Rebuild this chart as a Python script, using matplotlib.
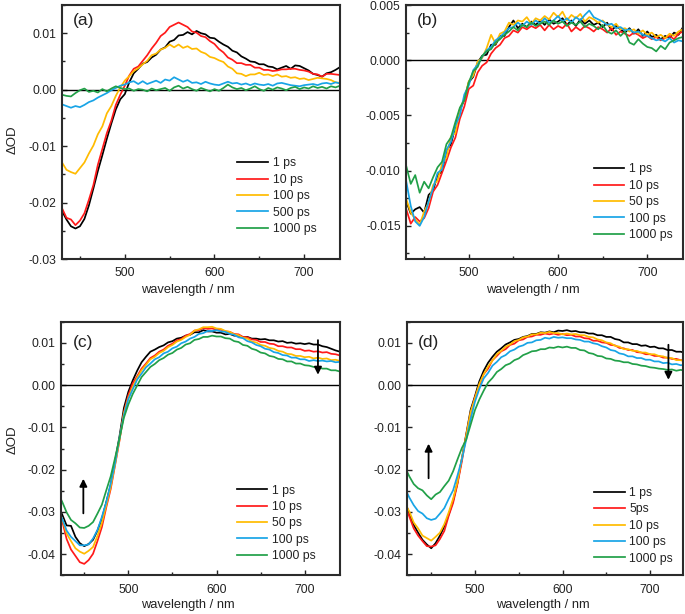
import matplotlib
matplotlib.use('Agg')
import matplotlib.pyplot as plt
from matplotlib.ticker import MultipleLocator, FormatStrFormatter
import numpy as np

plt.rcParams['font.family'] = ['Liberation Sans', 'DejaVu Sans']

# wavelength grids (nm)
wl_ab = np.arange(430, 741, 5)
wl_cd = np.arange(420, 741, 5)

# values, in mOD (x1e-3)
a_labels = ['1 ps', '10 ps', '100 ps', '500 ps', '1000 ps']
a_1ps = [-21.5, -23.0, -24.2, -24.6, -24.2, -22.9, -20.5, -17.5, -14.4, -11.6,
         -8.7, -6.0, -3.5, -1.7, -0.8, 1.3, 2.9, 3.7, 4.6, 4.9,
         5.7, 6.2, 7.1, 7.5, 8.5, 8.8, 9.6, 9.7, 10.2, 9.8,
         10.4, 10.0, 9.8, 9.2, 9.1, 8.5, 8.0, 7.6, 6.9, 6.6,
         5.9, 5.5, 5.0, 4.9, 4.5, 4.5, 4.1, 4.0, 3.6, 3.9,
         4.2, 3.7, 4.3, 4.2, 3.8, 3.4, 2.8, 2.6, 2.3, 2.9,
         3.1, 3.5, 4.0]
a_10ps = [-21.0, -22.7, -23.0, -24.0, -23.2, -21.9, -19.5, -16.9, -13.3, -10.5,
          -7.7, -5.5, -2.7, -0.9, 0.7, 2.5, 3.7, 4.1, 5.1, 6.1,
          7.3, 8.3, 9.5, 10.1, 11.1, 11.5, 11.9, 11.5, 11.1, 10.3,
          10.1, 9.5, 9.3, 8.6, 8.1, 7.2, 6.6, 5.7, 5.3, 4.7,
          4.7, 4.4, 4.4, 3.9, 3.9, 3.5, 3.5, 3.3, 3.4, 3.6,
          3.6, 3.7, 3.7, 3.5, 3.4, 3.2, 2.8, 2.7, 2.3, 2.8,
          2.8, 2.7, 2.6]
a_100ps = [-12.9, -14.2, -14.6, -14.9, -13.9, -12.9, -11.3, -9.9, -7.9, -6.5,
           -4.2, -2.9, -1.1, 0.4, 1.6, 2.4, 3.3, 3.8, 4.5, 5.1,
           6.1, 6.4, 7.1, 7.4, 8.0, 7.5, 8.0, 7.4, 7.7, 7.2,
           7.3, 6.7, 6.4, 5.8, 5.6, 5.2, 4.9, 4.1, 3.7, 2.9,
           2.8, 2.4, 2.7, 2.7, 3.0, 2.6, 2.7, 2.4, 2.7, 2.3,
           2.4, 2.1, 2.2, 1.9, 2.0, 1.7, 1.9, 2.1, 2.0, 1.9,
           1.7, 1.3, 1.2]
a_500ps = [-2.6, -2.9, -3.2, -2.9, -3.1, -2.7, -2.2, -1.9, -1.4, -1.0,
           -0.6, -0.1, 0.3, 0.7, 0.9, 1.3, 1.5, 1.0, 1.5, 1.0,
           1.3, 1.6, 1.2, 1.8, 1.6, 2.2, 1.8, 1.4, 1.7, 1.2,
           1.3, 1.0, 1.4, 1.1, 0.9, 0.8, 1.1, 1.4, 1.1, 1.2,
           0.9, 1.1, 0.8, 1.1, 0.9, 0.8, 1.0, 0.7, 1.1, 1.2,
           1.0, 0.8, 0.7, 0.6, 0.8, 0.9, 1.0, 0.8, 1.1, 1.2,
           1.0, 1.3, 1.1]
a_1000ps = [-0.9, -1.1, -1.2, -0.6, -0.1, 0.2, -0.4, -0.2, -0.5, 0.1,
            -0.3, 0.2, 0.6, 0.3, 0.1, 0.2, -0.2, 0.1, 0.0, -0.3,
            0.2, -0.1, 0.1, 0.3, -0.2, 0.4, 0.7, 0.2, 0.5, 0.1,
            -0.2, 0.3, 0.0, -0.3, 0.1, -0.2, 0.3, 0.9, 0.4, 0.1,
            0.3, -0.1, 0.2, 0.6, 0.1, -0.2, 0.3, 0.0, 0.4, 0.2,
            -0.1, 0.3, 0.5, 0.1, 0.4, 0.2, 0.6, 0.3, 0.5, 0.2,
            0.6, 0.4, 0.7]

b_labels = ['1 ps', '10 ps', '50 ps', '100 ps', '1000 ps']
b_1ps = [-12.8, -13.9, -13.5, -13.3, -13.8, -12.2, -11.8, -10.4, -10.1, -8.2,
         -7.6, -6.0, -4.5, -3.6, -2.0, -1.5, -0.2, 0.4, 0.5, 1.4,
         1.4, 2.2, 2.2, 3.0, 3.6, 2.9, 3.3, 3.0, 3.5, 3.2,
         3.6, 3.2, 3.7, 3.3, 3.5, 3.8, 3.2, 3.6, 3.1, 3.7,
         3.3, 3.6, 3.2, 3.4, 3.0, 3.4, 2.7, 3.1, 2.8, 2.5,
         2.9, 2.4, 2.8, 2.2, 2.6, 2.1, 2.3, 1.9, 2.2, 2.0,
         2.5, 2.3, 3.0]
b_10ps = [-13.5, -14.8, -14.2, -14.6, -14.3, -13.4, -11.9, -11.3, -10.2, -9.1,
          -7.9, -7.0, -5.3, -4.2, -2.6, -2.3, -1.1, -0.5, -0.2, 0.6,
          1.1, 1.4, 2.0, 2.2, 2.7, 2.5, 3.0, 2.8, 3.1, 2.9,
          3.2, 2.7, 3.2, 2.8, 3.1, 2.9, 3.3, 2.6, 3.0, 2.7,
          3.1, 2.9, 2.6, 3.0, 2.8, 2.5, 2.9, 2.3, 2.6, 2.4,
          2.2, 2.5, 2.3, 2.0, 2.2, 1.9, 2.1, 1.8, 2.0, 2.2,
          1.9, 2.4, 2.6]
b_50ps = [-12.6, -13.8, -14.4, -14.9, -13.7, -12.9, -11.3, -10.9, -9.4, -8.8,
          -6.9, -6.6, -4.4, -3.5, -1.9, -1.4, -0.1, 0.2, 1.1, 2.3,
          1.5, 2.4, 2.6, 3.4, 3.2, 3.6, 3.5, 3.9, 3.3, 3.8,
          3.6, 4.0, 3.7, 4.3, 3.9, 4.4, 3.6, 4.1, 3.8, 4.2,
          3.5, 3.9, 3.7, 3.4, 3.6, 3.2, 3.0, 3.3, 2.8, 2.9,
          2.6, 2.8, 2.4, 2.7, 2.3, 2.5, 2.1, 2.3, 2.0, 2.4,
          2.2, 2.6, 2.8]
b_100ps = [-11.0, -13.2, -14.6, -15.0, -14.2, -12.8, -11.6, -10.2, -9.9, -8.1,
           -7.4, -5.9, -5.0, -3.1, -2.3, -0.9, -0.4, 0.3, 0.9, 1.2,
           1.8, 2.1, 2.5, 2.9, 3.0, 3.4, 3.1, 3.5, 3.2, 3.6,
           3.3, 3.8, 3.4, 3.6, 4.0, 3.5, 3.8, 3.4, 3.9, 3.6,
           4.1, 4.5, 3.9, 3.7, 3.5, 3.2, 3.3, 2.9, 3.0, 2.7,
           2.8, 2.5, 2.6, 2.3, 2.2, 2.0, 1.8, 1.9, 1.7, 2.0,
           1.6, 1.8, 1.7]
b_1000ps = [-9.6, -11.2, -10.4, -12.0, -11.0, -11.6, -10.6, -9.7, -9.2, -7.6,
            -7.0, -5.6, -4.3, -3.6, -2.0, -1.0, -0.6, 0.4, 0.8, 1.0,
            1.6, 1.9, 2.3, 2.6, 3.0, 2.7, 3.2, 3.0, 3.4, 3.1,
            3.3, 3.5, 3.2, 3.6, 3.3, 3.5, 3.1, 3.4, 3.2, 3.5,
            3.0, 3.3, 3.1, 2.8, 3.2, 2.6, 2.4, 2.7, 2.2, 2.6,
            1.6, 1.4, 1.9, 1.5, 1.2, 1.1, 0.8, 1.3, 1.0, 1.6,
            1.8, 2.0, 2.1]

c_labels = ['1 ps', '10 ps', '50 ps', '100 ps', '1000 ps']
c_1ps = [-28.5, -30.6, -33.2, -33.3, -35.9, -37.4, -38.1, -37.6, -36.6, -34.4,
         -31.6, -27.7, -23.6, -17.9, -12.1, -5.4, -1.6, 1.1, 3.4, 5.4,
         6.7, 7.9, 8.4, 9.0, 9.4, 10.1, 10.4, 11.0, 11.2, 11.7,
         11.9, 12.5, 12.5, 13.0, 12.7, 12.7, 12.4, 12.4, 12.0, 12.1,
         11.7, 11.7, 11.3, 11.4, 11.0, 11.0, 10.8, 10.9, 10.6, 10.6,
         10.3, 10.4, 10.0, 10.1, 9.8, 9.9, 9.7, 9.9, 9.6, 9.6,
         9.2, 9.0, 8.6, 8.2, 7.9]
c_10ps = [-29.0, -32.1, -36.4, -38.9, -40.4, -41.9, -42.3, -41.4, -39.9, -36.9,
          -33.6, -28.9, -24.6, -18.9, -13.1, -6.4, -2.4, 0.4, 2.1, 3.9,
          5.1, 6.4, 7.0, 7.9, 8.4, 9.3, 9.8, 10.6, 10.9, 11.7,
          12.1, 12.9, 13.0, 13.5, 13.3, 13.4, 13.1, 13.1, 12.7, 12.6,
          12.1, 12.0, 11.4, 11.3, 10.8, 10.7, 10.2, 10.2, 9.8, 9.7,
          9.2, 9.2, 8.9, 8.9, 8.5, 8.5, 8.1, 8.2, 7.9, 8.0,
          7.7, 7.8, 7.4, 7.3, 7.0]
c_50ps = [-30.0, -31.6, -35.1, -36.9, -38.6, -39.4, -39.9, -39.2, -38.3, -35.7,
          -32.6, -28.4, -24.1, -18.7, -12.9, -6.7, -3.1, -0.4, 1.7, 3.5,
          4.8, 6.1, 6.7, 7.6, 8.1, 9.0, 9.5, 10.3, 10.7, 11.4,
          11.9, 12.9, 13.2, 13.7, 13.7, 13.8, 13.4, 13.3, 12.8, 12.6,
          12.0, 11.8, 11.2, 11.0, 10.3, 10.1, 9.5, 9.3, 8.8, 8.6,
          8.1, 7.9, 7.4, 7.3, 6.9, 6.9, 6.6, 6.7, 6.3, 6.5,
          6.2, 6.3, 5.9, 6.0, 5.7]
c_100ps = [-29.5, -31.6, -34.4, -35.9, -36.9, -37.9, -37.9, -37.7, -36.3, -34.3,
           -31.2, -27.7, -23.3, -18.4, -12.5, -7.1, -3.3, -1.0, 1.3, 2.7,
           4.2, 5.1, 6.1, 6.6, 7.5, 7.9, 8.7, 9.1, 9.9, 10.3,
           11.0, 11.4, 12.1, 12.3, 12.8, 12.8, 13.0, 12.7, 12.6, 12.1,
           11.9, 11.3, 11.1, 10.4, 10.1, 9.5, 9.2, 8.6, 8.4, 7.8,
           7.6, 7.1, 7.0, 6.5, 6.5, 6.1, 6.1, 5.7, 5.9, 5.7,
           5.8, 5.6, 5.7, 5.4, 5.5]
c_1000ps = [-25.5, -27.6, -30.1, -31.9, -32.7, -33.7, -33.8, -33.3, -32.4, -30.4,
            -28.3, -24.9, -21.6, -17.2, -12.6, -7.7, -4.6, -2.1, -0.1, 1.9,
            3.1, 4.3, 5.0, 5.9, 6.4, 7.2, 7.6, 8.4, 8.8, 9.6,
            9.9, 10.7, 10.9, 11.4, 11.4, 11.7, 11.5, 11.5, 11.1, 11.0,
            10.4, 10.2, 9.5, 9.3, 8.6, 8.3, 7.7, 7.5, 6.9, 6.7,
            6.2, 6.1, 5.6, 5.6, 5.1, 5.1, 4.7, 4.6, 4.3, 4.3,
            3.9, 3.9, 3.5, 3.5, 3.2]

d_labels = ['1 ps', '5ps', '10 ps', '100 ps', '1000 ps']
d_1ps = [-27.6, -30.4, -33.1, -34.9, -36.6, -37.7, -38.6, -37.4, -35.6, -33.4,
         -30.6, -27.4, -23.1, -17.4, -11.6, -5.9, -2.6, 0.9, 3.4, 5.3,
         6.7, 7.9, 8.7, 9.6, 10.1, 10.7, 10.9, 11.4, 11.6, 12.1,
         12.1, 12.5, 12.4, 12.7, 12.5, 12.9, 12.8, 13.0, 12.7, 12.8,
         12.5, 12.5, 12.2, 12.2, 11.8, 11.8, 11.4, 11.4, 10.9, 10.7,
         10.1, 10.1, 9.7, 9.7, 9.3, 9.4, 9.0, 9.1, 8.7, 8.7,
         8.3, 8.3, 7.9, 7.9, 7.6]
d_5ps = [-28.5, -31.1, -33.9, -35.6, -36.9, -38.1, -38.2, -37.9, -36.4, -34.5,
         -30.9, -27.9, -23.4, -18.1, -11.9, -6.6, -2.9, -0.1, 2.6, 3.9,
         5.9, 6.9, 8.0, 8.5, 9.5, 9.8, 10.6, 10.8, 11.4, 11.5,
         11.9, 11.9, 12.2, 12.0, 12.2, 11.9, 12.1, 11.8, 11.9, 11.5,
         11.5, 11.1, 11.0, 10.5, 10.5, 10.1, 10.0, 9.5, 9.4, 8.8,
         8.7, 8.3, 8.3, 7.8, 7.7, 7.3, 7.3, 6.9, 6.9, 6.5,
         6.5, 6.2, 6.2, 5.9, 5.9]
d_10ps = [-28.0, -29.9, -32.5, -33.9, -35.6, -36.2, -36.8, -35.9, -34.9, -32.9,
          -30.1, -26.9, -22.9, -17.4, -11.9, -6.4, -3.1, 0.3, 2.6, 4.4,
          5.8, 7.3, 8.1, 9.1, 9.6, 10.4, 10.7, 11.3, 11.5, 12.0,
          12.0, 12.4, 12.3, 12.6, 12.3, 12.3, 12.0, 12.2, 12.0, 12.1,
          11.8, 11.8, 11.4, 11.3, 10.8, 10.6, 10.1, 9.9, 9.3, 9.1,
          8.5, 8.5, 8.1, 8.1, 7.7, 7.7, 7.3, 7.3, 6.9, 6.8,
          6.4, 6.4, 5.9, 5.9, 5.6]
d_100ps = [-24.4, -26.6, -28.4, -29.8, -30.4, -31.5, -31.9, -31.6, -30.4, -29.1,
           -26.9, -24.9, -21.4, -17.6, -12.9, -8.1, -3.9, -0.9, 1.6, 2.9,
           4.6, 5.5, 6.6, 7.1, 8.0, 8.4, 9.1, 9.4, 10.0, 10.1,
           10.6, 10.7, 11.2, 11.0, 11.4, 11.2, 11.3, 11.1, 11.1, 10.8,
           10.7, 10.3, 10.3, 9.9, 9.7, 9.2, 8.9, 8.3, 8.1, 7.5,
           7.3, 6.8, 6.8, 6.4, 6.4, 6.0, 6.0, 5.6, 5.6, 5.2,
           5.3, 4.9, 5.0, 4.7, 4.8]
d_1000ps = [-19.4, -21.6, -23.4, -24.4, -24.9, -26.1, -27.0, -25.9, -25.3, -23.9,
            -22.6, -20.4, -17.6, -14.9, -12.9, -9.4, -5.9, -3.4, -1.3, 0.6,
            1.7, 3.1, 3.8, 4.7, 5.1, 5.9, 6.3, 7.1, 7.5, 8.0,
            8.1, 8.5, 8.5, 8.9, 8.8, 9.1, 8.9, 9.1, 8.8, 8.8,
            8.3, 8.2, 7.6, 7.4, 6.9, 6.8, 6.3, 6.2, 5.8, 5.7,
            5.4, 5.4, 5.0, 4.9, 4.6, 4.5, 4.2, 4.1, 3.9, 3.8,
            3.6, 3.7, 3.4, 3.6, 3.4]

colors = ['#000000', '#ff1a1a', '#ffbb00', '#18a4e6', '#21a048']
ink = '#222222'


def draw_panel(ax, wl, series, labels, tag, tag_y, leg_xy):
    ax.axhline(0, color='k', lw=1.0)
    for i, s in enumerate(series):
        ax.plot(wl, np.array(s) * 1e-3, color=colors[i], lw=1.25, label=labels[i])
    ax.text(0.04, tag_y, tag, transform=ax.transAxes, fontsize=12.5,
            ha='left', va='center', color=ink)
    ax.legend(loc='upper left', bbox_to_anchor=leg_xy, frameon=False,
              fontsize=8.8, borderpad=0, borderaxespad=0, handlelength=2.5,
              handletextpad=0.4, labelspacing=0.36, labelcolor=ink)
    ax.xaxis.set_major_locator(MultipleLocator(100))
    ax.xaxis.set_minor_locator(MultipleLocator(50))
    ax.tick_params(which='both', direction='in', top=False, right=False,
                   labelsize=8.8, colors=ink, width=1.0)
    ax.tick_params(which='major', length=3.5, pad=4)
    ax.tick_params(axis='x', which='major', pad=6)
    ax.tick_params(which='minor', length=2)
    for sp in ax.spines.values():
        sp.set_linewidth(1.5)
        sp.set_color('#2b2b2b')


fig = plt.figure(figsize=(6.85, 6.14), dpi=100)
W, H = 685.0, 614.0


def box(l, t, r, b):
    return [l / W, 1 - b / H, (r - l) / W, (b - t) / H]


ax_a = fig.add_axes(box(62, 5, 340, 259))
ax_b = fig.add_axes(box(406.3, 5, 683, 259))
ax_c = fig.add_axes(box(61.3, 321.7, 340, 575.3))
ax_d = fig.add_axes(box(406.7, 321.7, 683.3, 575.3))

draw_panel(ax_a, wl_ab, [a_1ps, a_10ps, a_100ps, a_500ps, a_1000ps], a_labels,
           '(a)', 0.94, (0.63, 0.40))
ax_a.set_xlim(430, 740)
ax_a.set_ylim(-0.03, 0.015)
ax_a.yaxis.set_major_locator(MultipleLocator(0.01))
ax_a.yaxis.set_minor_locator(MultipleLocator(0.005))
ax_a.yaxis.set_major_formatter(FormatStrFormatter('%.2f'))

draw_panel(ax_b, wl_ab, [b_1ps, b_10ps, b_50ps, b_100ps, b_1000ps], b_labels,
           '(b)', 0.94, (0.678, 0.376))
ax_b.set_xlim(430, 740)
ax_b.set_ylim(-0.018, 0.005)
ax_b.yaxis.set_major_locator(MultipleLocator(0.005))
ax_b.yaxis.set_minor_locator(MultipleLocator(0.0025))
ax_b.yaxis.set_major_formatter(FormatStrFormatter('%.3f'))

draw_panel(ax_c, wl_cd, [c_1ps, c_10ps, c_50ps, c_100ps, c_1000ps], c_labels,
           '(c)', 0.917, (0.63, 0.358))
ax_c.set_xlim(424, 740)
ax_c.set_ylim(-0.045, 0.015)
ax_c.annotate('', xy=(449, -0.0215), xytext=(449, -0.031),
              arrowprops=dict(arrowstyle='-|>', color='k', lw=1.3, mutation_scale=11))
ax_c.annotate('', xy=(715, 0.0018), xytext=(715, 0.0113),
              arrowprops=dict(arrowstyle='-|>', color='k', lw=1.3, mutation_scale=11))

draw_panel(ax_d, wl_cd, [d_1ps, d_5ps, d_10ps, d_100ps, d_1000ps], d_labels,
           '(d)', 0.917, (0.677, 0.348))
ax_d.set_xlim(422, 738)
ax_d.set_ylim(-0.045, 0.015)
ax_d.annotate('', xy=(447, -0.0132), xytext=(447, -0.0227),
              arrowprops=dict(arrowstyle='-|>', color='k', lw=1.3, mutation_scale=11))
ax_d.annotate('', xy=(721, 0.0006), xytext=(721, 0.0102),
              arrowprops=dict(arrowstyle='-|>', color='k', lw=1.3, mutation_scale=11))

for ax in (ax_c, ax_d):
    ax.yaxis.set_major_locator(MultipleLocator(0.01))
    ax.yaxis.set_minor_locator(MultipleLocator(0.005))
    ax.yaxis.set_major_formatter(FormatStrFormatter('%.2f'))

# axis titles placed by pixel position
for x, y in ((187.5, 290), (533, 290), (188, 605), (542.5, 605)):
    fig.text(x / W, 1 - y / H, 'wavelength / nm', ha='center', va='center',
             fontsize=9.3, color=ink)
for y in (140, 440):
    fig.text(12.7 / W, 1 - y / H, 'ΔOD', rotation=90, ha='center', va='center',
             fontsize=9.5, color=ink)

fig.savefig('out.png', dpi=100)
